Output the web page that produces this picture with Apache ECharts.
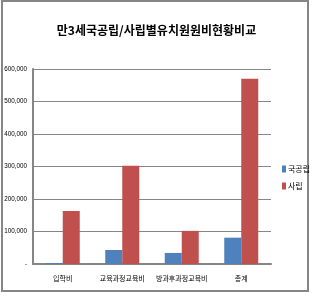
<!DOCTYPE html>
<html>
<head>
<meta charset="utf-8">
<script src="https://cdn.jsdelivr.net/npm/echarts@6/dist/echarts.min.js"></script>
<style>
html,body{margin:0;padding:0;background:#fff;}
#c{width:313px;height:297px;}
</style>
</head>
<body>
<div id="c"></div>
<script>
const titleText = '만3세국공립/사립별유치원원비현황비교';
const categories = ['입학비', '교육과정교육비', '방과후과정교육비', '총계'];
const seriesNames = ['국공립', '사립'];
const publicValues = [3000, 43000, 34000, 81000];
const privateValues = [163000, 302000, 102000, 570000];
const yTicks = [0, 100000, 200000, 300000, 400000, 500000, 600000];

const chart = echarts.init(document.getElementById('c'), null, {renderer: 'canvas'});
const FONT = "'Noto Sans CJK KR', sans-serif";
chart.setOption({
  animation: false,
  backgroundColor: '#fff',
  title: {
    text: titleText,
    left: 'center',
    top: 19,
    textStyle: {fontFamily: FONT, fontSize: 12, fontWeight: 'bold', color: '#000'}
  },
  graphic: [{
    type: 'rect',
    shape: {x: 2, y: 1, width: 306, height: 290},
    style: {fill: 'none', stroke: '#868686', lineWidth: 2},
    silent: true
  }],
  legend: {
    orient: 'vertical',
    left: 277,
    top: 160,
    itemWidth: 4,
    itemHeight: 7,
    itemGap: 9,
    icon: 'rect',
    textStyle: {fontFamily: FONT, fontSize: 8, color: '#000', padding: [0, 0, 0, -3]},
    data: seriesNames
  },
  grid: {left: 33, top: 69, right: 42, bottom: 33, containLabel: false},
  xAxis: {
    type: 'category',
    data: categories,
    axisLine: {lineStyle: {color: '#868686', width: 2}},
    axisTick: {show: false},
    axisLabel: {fontFamily: FONT, fontSize: 7, color: '#000', margin: 11, interval: 0}
  },
  yAxis: {
    type: 'value',
    min: yTicks[0],
    max: yTicks[yTicks.length - 1],
    interval: yTicks[1] - yTicks[0],
    axisLine: {show: true, lineStyle: {color: '#868686', width: 2}},
    axisTick: {show: false},
    splitLine: {lineStyle: {color: '#868686', width: 1}},
    axisLabel: {
      fontFamily: "'Liberation Sans', sans-serif",
      fontSize: 6.3,
      color: '#000',
      margin: 6,
      formatter: v => v === 0 ? '-' : v.toLocaleString('en-US')
    }
  },
  series: [
    {name: seriesNames[0], type: 'bar', data: publicValues, barWidth: 17, barGap: '0%', itemStyle: {color: '#4F81BD'}},
    {name: seriesNames[1], type: 'bar', data: privateValues, barWidth: 17, barGap: '0%', itemStyle: {color: '#C0504D'}}
  ]
});
</script>
</body>
</html>
